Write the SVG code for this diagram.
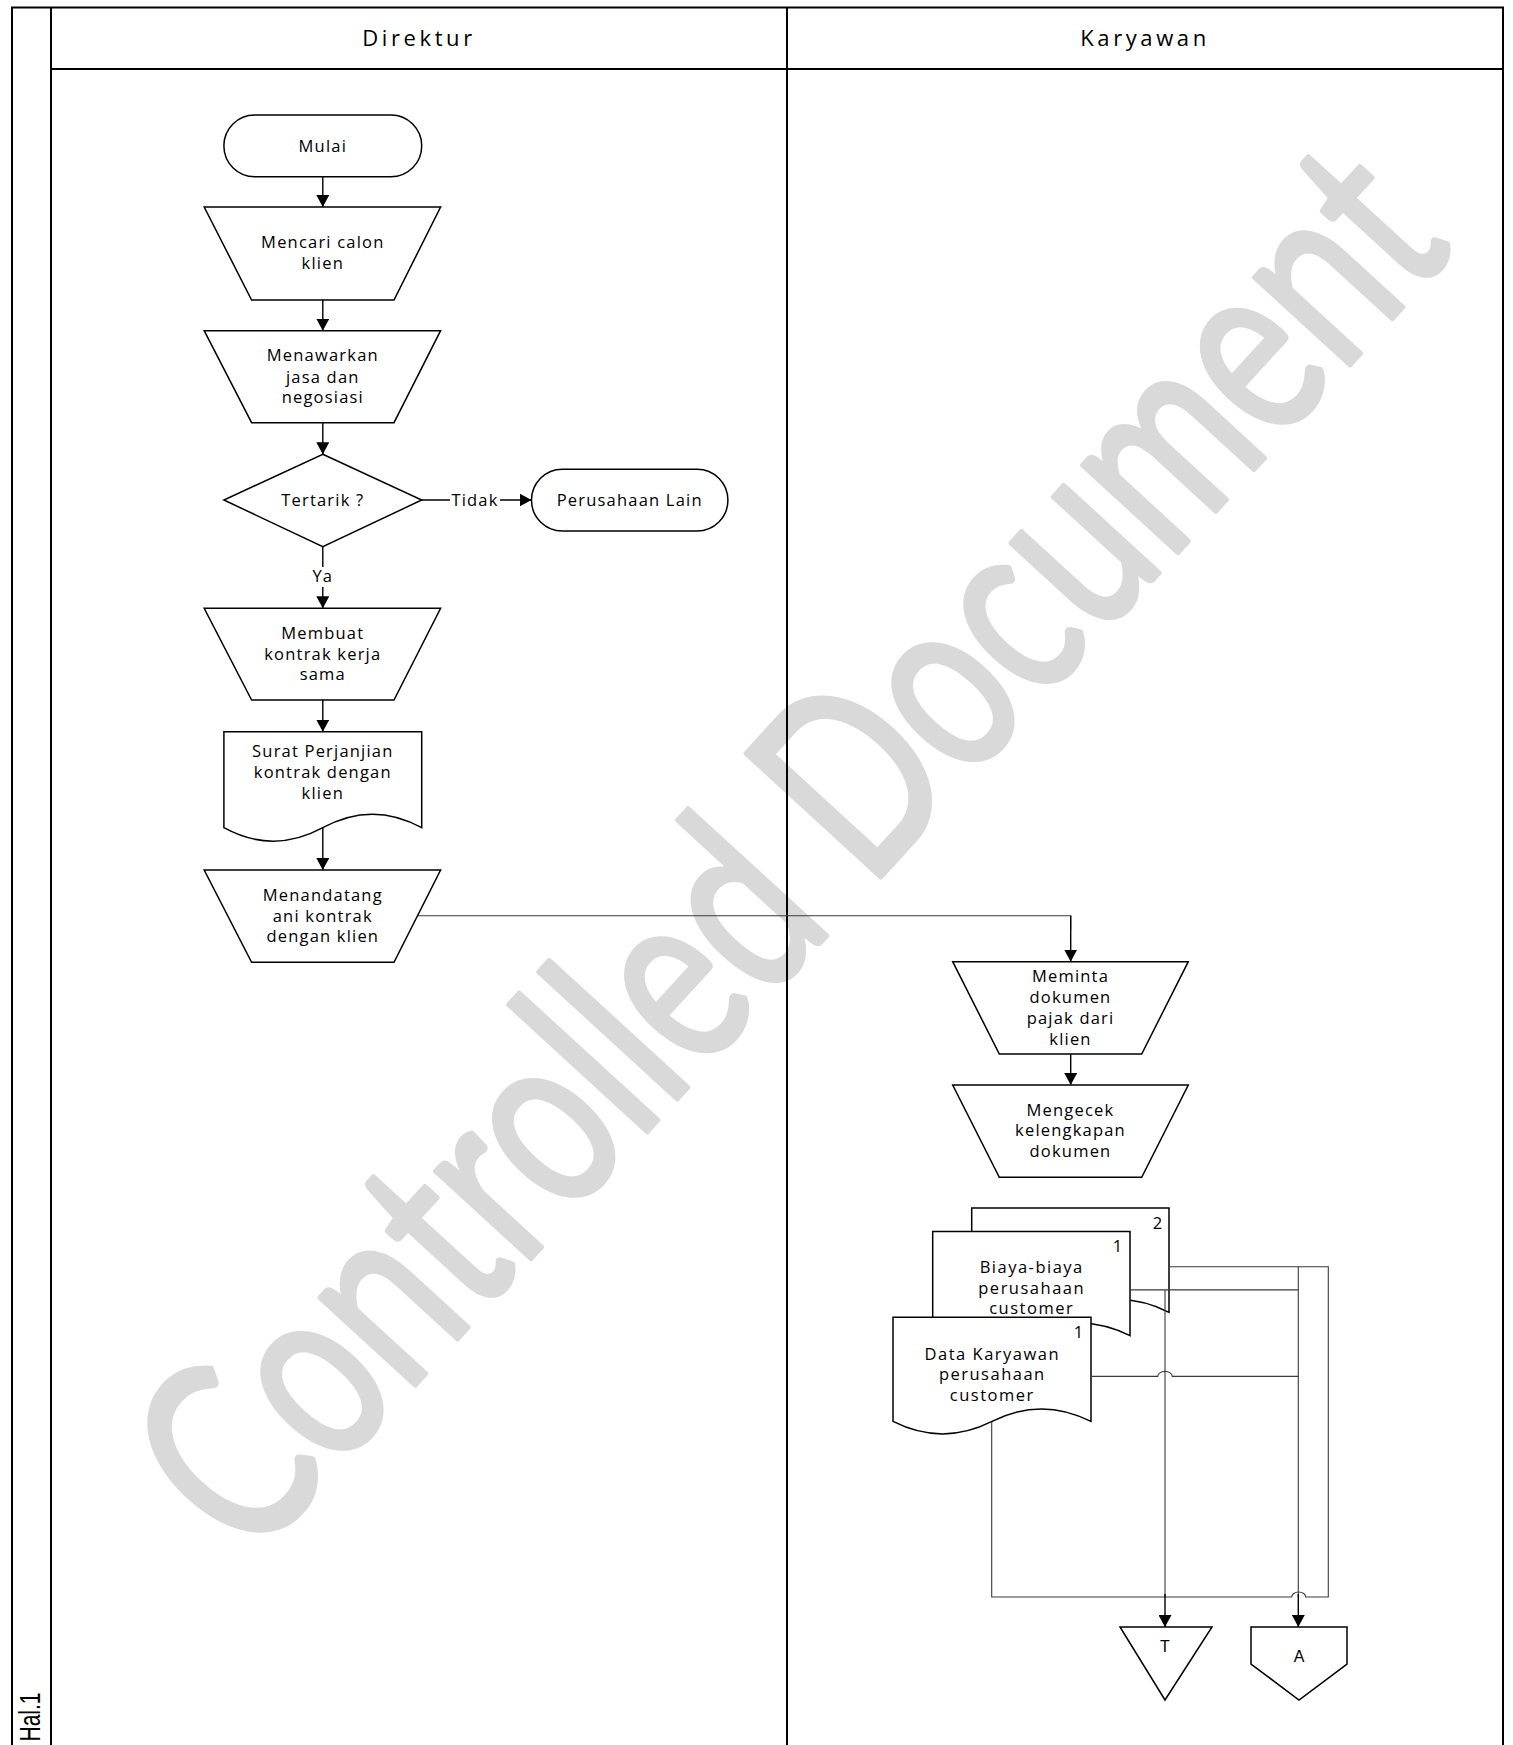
<svg xmlns="http://www.w3.org/2000/svg" width="1513" height="1745" viewBox="0 0 1513 1745">
<style>
.frame{fill:none;stroke:#000;stroke-width:2}
.shape{fill:#fff;stroke:#000;stroke-width:1.5}
.t{font-family:"Open Sans","Liberation Sans",sans-serif;font-size:16.5px;letter-spacing:1.2px;text-anchor:middle;fill:#000}
.w{letter-spacing:1.5px}
.hd{font-family:"Open Sans","Liberation Sans",sans-serif;font-size:22px;letter-spacing:3.6px;text-anchor:middle;fill:#000}
.sm{font-family:"Liberation Sans",Arial,sans-serif;font-size:16px;text-anchor:middle;fill:#000}
.flow{fill:none;stroke:#000;stroke-width:1.4}
.thin{fill:none;stroke:#3a3a3a;stroke-width:1.1}
.wm{font-family:Lato,"Open Sans",sans-serif;font-size:255px;text-anchor:middle;fill:#d9d9d9;stroke:#d9d9d9;stroke-width:5;stroke-linejoin:round}
</style>
<defs>
<marker id="ah" markerUnits="userSpaceOnUse" viewBox="0 0 12 13" refX="12" refY="6.5" markerWidth="12" markerHeight="13" orient="auto">
<path d="M0,0 L12,6.5 L0,13 z" fill="#000"/>
</marker>
</defs>
<rect width="1513" height="1745" fill="#fff"/>

<g id="watermark">
<text class="wm" transform="translate(853,907) rotate(-47.5)" textLength="1786" lengthAdjust="spacingAndGlyphs">Controlled Document</text>
</g>

<g id="frame">
<line class="frame" x1="12" y1="7" x2="12" y2="1745"/>
<line class="frame" x1="11" y1="7.5" x2="1504" y2="7.5"/>
<line class="frame" x1="1503" y1="7" x2="1503" y2="1745"/>
<line class="frame" x1="51" y1="8" x2="51" y2="1745"/>
<line class="frame" x1="51" y1="69" x2="1503" y2="69"/>
<line class="frame" x1="787" y1="8" x2="787" y2="1745"/>
<text class="hd" x="419" y="46">Direktur</text>
<text class="hd" x="1145" y="46">Karyawan</text>
<text font-family="Liberation Sans, Arial, sans-serif" font-size="30" fill="#000" textLength="49" lengthAdjust="spacingAndGlyphs" transform="translate(40,1741.5) rotate(-90)">Hal.1</text>
</g>

<g id="connectors">
<line class="flow" x1="322.8" y1="176.7" x2="322.8" y2="207" marker-end="url(#ah)"/>
<line class="flow" x1="322.8" y1="300" x2="322.8" y2="330.7" marker-end="url(#ah)"/>
<line class="flow" x1="322.8" y1="422.7" x2="322.8" y2="454.3" marker-end="url(#ah)"/>
<line class="flow" x1="322.8" y1="546.7" x2="322.8" y2="608.3" marker-end="url(#ah)"/>
<line class="flow" x1="322.8" y1="700" x2="322.8" y2="731.7" marker-end="url(#ah)"/>
<line class="flow" x1="322.8" y1="828" x2="322.8" y2="870" marker-end="url(#ah)"/>
<line class="flow" x1="421.7" y1="500" x2="531.5" y2="500" marker-end="url(#ah)"/>
<polyline class="thin" points="417.5,915.7 1070.7,915.7 1070.7,930"/>
<line class="flow" x1="1070.7" y1="915.7" x2="1070.7" y2="961.7" marker-end="url(#ah)"/>
<line class="flow" x1="1070.7" y1="1054" x2="1070.7" y2="1085" marker-end="url(#ah)"/>
<rect x="450" y="490" width="50" height="19" fill="#fff"/>
<text class="t" x="475" y="505.7">Tidak</text>
<rect x="309" y="567" width="28" height="20" fill="#fff"/>
<text class="t" x="322.8" y="582.4">Ya</text>
</g>

<g id="n-mulai">
<rect class="shape" x="223.9" y="115" width="197.8" height="61.7" rx="30.8" ry="30.8"/>
<text class="t" x="322.8" y="151.7">Mulai</text>
</g>
<g id="n-mencari">
<polygon class="shape" points="204.2,207 440.6,207 394,300 251.6,300"/>
<text class="t" x="322.8" y="248.4">Mencari calon</text>
<text class="t" x="322.8" y="269">klien</text>
</g>
<g id="n-menawarkan">
<polygon class="shape" points="204.2,330.7 440.6,330.7 394,422.7 251.6,422.7"/>
<text class="t" x="322.8" y="361.4">Menawarkan</text>
<text class="t" x="322.8" y="382.7">jasa dan</text>
<text class="t" x="322.8" y="403.4">negosiasi</text>
</g>
<g id="n-tertarik">
<polygon class="shape" points="322.8,454.3 421.7,500 322.8,546.7 223.9,500"/>
<text class="t" x="322.8" y="505.7">Tertarik ?</text>
</g>
<g id="n-lain">
<rect class="shape" x="531.5" y="469.3" width="196.4" height="61.7" rx="30.8" ry="30.8"/>
<text class="t" x="629.7" y="505.7">Perusahaan Lain</text>
</g>
<g id="n-membuat">
<polygon class="shape" points="204.2,608.3 440.6,608.3 394,700 251.6,700"/>
<text class="t" x="322.8" y="639">Membuat</text>
<text class="t" x="322.8" y="659.7">kontrak kerja</text>
<text class="t" x="322.8" y="680.4">sama</text>
</g>
<g id="n-surat">
<path class="shape" d="M223.9,731.7 H421.7 V827.7 Q372.3,800.7 322.8,827.7 T223.9,827.7 Z"/>
<text class="t" x="322.8" y="757.4">Surat Perjanjian</text>
<text class="t" x="322.8" y="778">kontrak dengan</text>
<text class="t" x="322.8" y="799">klien</text>
</g>
<g id="n-menandatangani">
<polygon class="shape" points="204.2,870 440.6,870 394,962.3 251.6,962.3"/>
<text class="t" x="322.8" y="900.7">Menandatang</text>
<text class="t" x="322.8" y="921.7">ani kontrak</text>
<text class="t" x="322.8" y="942.4">dengan klien</text>
</g>
<g id="n-meminta">
<polygon class="shape" points="952.7,961.7 1188.3,961.7 1141.7,1054 999.3,1054"/>
<text class="t" x="1070.5" y="982.4">Meminta</text>
<text class="t" x="1070.5" y="1003">dokumen</text>
<text class="t" x="1070.5" y="1024">pajak dari</text>
<text class="t" x="1070.5" y="1045">klien</text>
</g>
<g id="n-mengecek">
<polygon class="shape" points="952.7,1085 1188.3,1085 1141.7,1177.3 999.3,1177.3"/>
<text class="t" x="1070.5" y="1115.7">Mengecek</text>
<text class="t" x="1070.5" y="1136.4">kelengkapan</text>
<text class="t" x="1070.5" y="1157.4">dokumen</text>
</g>
<g id="n-biaya">
<path class="shape" d="M971.7,1208.1 H1169 V1312.3 Q1119.7,1287.3 1070.3,1312.3 T971.7,1312.3 Z"/>
<text class="t" x="1158" y="1228.9">2</text>
<path class="shape" d="M932.7,1231.5 H1130 V1335.7 Q1080.7,1310.7 1031.3,1335.7 T932.7,1335.7 Z"/>
<text class="t" x="1118" y="1252.4">1</text>
<text class="t w" x="1031.7" y="1273.3">Biaya-biaya</text>
<text class="t w" x="1031.7" y="1293.8">perusahaan</text>
<text class="t w" x="1031.7" y="1314.3">customer</text>
</g>
<g id="n-data">
<path class="shape" d="M893,1317.3 H1091 V1421.4 Q1041.5,1396.4 992,1421.4 T893,1421.4 Z"/>
<text class="t" x="1079" y="1338.1">1</text>
<text class="t w" x="992.3" y="1359.7">Data Karyawan</text>
<text class="t w" x="992.3" y="1380.3">perusahaan</text>
<text class="t w" x="992.3" y="1401.2">customer</text>
</g>

<g id="doc-connectors">
<path class="thin" d="M1169,1266.8 H1328.3 V1597 H1305.7 A7 5 0 0 0 1291.7,1597 H991.7 V1422"/>
<path class="thin" d="M1130,1289.9 H1298.3"/>
<path class="thin" d="M1298.3,1266.8 V1597"/>
<path class="thin" d="M1165,1289.9 V1597"/>
<path class="thin" d="M1091,1376.4 H1157.7 A7.3 5 0 0 1 1172.3,1376.4 H1298.3"/>
<line class="flow" x1="1165" y1="1594" x2="1165" y2="1627" marker-end="url(#ah)"/>
<line class="flow" x1="1298.3" y1="1594" x2="1298.3" y2="1627" marker-end="url(#ah)"/>
</g>

<g id="n-T">
<polygon class="shape" points="1120,1627 1212,1627 1165,1700"/>
<text class="sm" x="1165" y="1652">T</text>
</g>
<g id="n-A">
<polygon class="shape" points="1251,1627 1347,1627 1347,1664 1299,1700 1251,1664"/>
<text class="sm" x="1299" y="1662">A</text>
</g>
</svg>
